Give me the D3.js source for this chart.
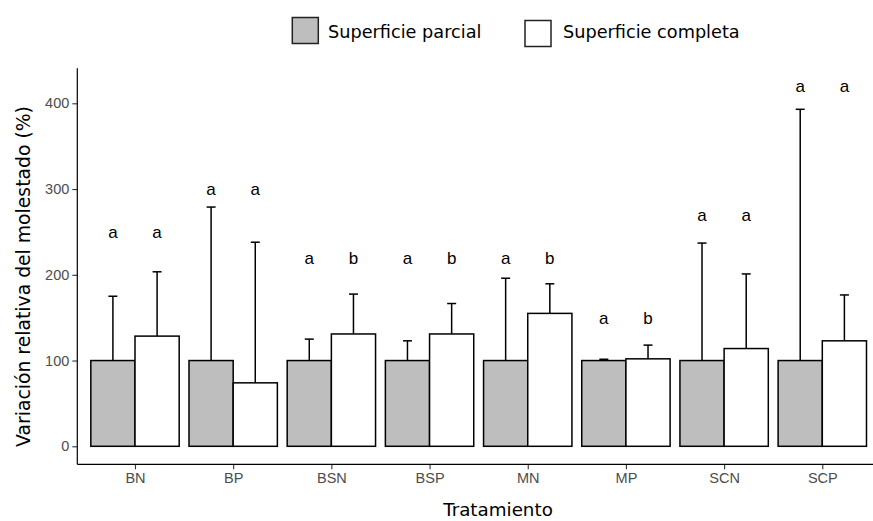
<!DOCTYPE html>
<html>
<head>
<meta charset="utf-8">
<script src="https://cdn.jsdelivr.net/npm/d3@7"></script>
<style>
  html, body { margin: 0; padding: 0; background: #fff; }
  svg { display: block; }
</style>
</head>
<body>
<svg id="chart" width="873" height="521"></svg>
<script>
// Treatments on the x axis
const categories = ["BN", "BP", "BSN", "BSP", "MN", "MP", "SCN", "SCP"];
// Series names
const seriesNames = ["Superficie parcial", "Superficie completa"];
// Mean relative variation (%) per treatment
const parcial = [100, 100, 100, 100, 100, 100, 100, 100];
const completa = [128.5, 74, 131, 131, 155, 102, 114, 123];
// Upper end of the error bar (%)
const parcialUpper = [175, 279, 125, 123, 196, 101.5, 237, 393];
const completaUpper = [203.5, 238, 177.5, 166.5, 189.5, 118, 201, 176.5];
// Significance letters and the height (%) at which they are written
const parcialLetters = ["a", "a", "a", "a", "a", "a", "a", "a"];
const completaLetters = ["a", "a", "b", "b", "b", "b", "a", "a"];
const letterHeight = [250, 300, 220, 220, 220, 150, 270, 420];
// Y axis ticks
const yTicks = [0, 100, 200, 300, 400];

const fills = ["#bebebe", "#ffffff"];
const svg = d3.select("#chart");

const y = d3.scaleLinear().domain([0, 400]).range([446.3, 103.3]);
const x = d3.scalePoint().domain(categories).range([135, 822.3]);
const step = x.step();
const barW = step * 0.9 / 2;

const panelLeft = 77.3, panelRight = 873;
const yTop = y(441), yBottom = y(-21);

// series table built from the arrays above
const table = categories.map((c, i) => ([
  { cat: c, s: 0, v: parcial[i], up: parcialUpper[i], letter: parcialLetters[i], lh: letterHeight[i] },
  { cat: c, s: 1, v: completa[i], up: completaUpper[i], letter: completaLetters[i], lh: letterHeight[i] }
])).flat();

const barX = d => x(d.cat) + (d.s === 0 ? -barW : 0);
const barMid = d => barX(d) + barW / 2;

// error bars (upper half only)
const eb = svg.append("g").attr("stroke", "#000").attr("stroke-width", 1.5);
eb.selectAll("line.stem").data(table).join("line")
  .attr("class", "stem")
  .attr("x1", barMid).attr("x2", barMid)
  .attr("y1", d => y(d.v)).attr("y2", d => y(d.up));
eb.selectAll("line.cap").data(table).join("line")
  .attr("class", "cap")
  .attr("x1", d => barMid(d) - 4.5).attr("x2", d => barMid(d) + 4.5)
  .attr("y1", d => y(d.up)).attr("y2", d => y(d.up));

// bars
svg.append("g").selectAll("rect").data(table).join("rect")
  .attr("x", barX)
  .attr("width", barW)
  .attr("y", d => y(d.v))
  .attr("height", d => y(0) - y(d.v))
  .attr("fill", d => fills[d.s])
  .attr("stroke", "#000")
  .attr("stroke-width", 1.5);

// significance letters
svg.append("g").selectAll("text").data(table).join("text")
  .attr("x", barMid)
  .attr("y", d => y(d.lh) + 6)
  .attr("text-anchor", "middle")
  .style("font-family", "'Liberation Sans', Arial, sans-serif")
  .style("font-size", "17px")
  .attr("fill", "#000")
  .text(d => d.letter);

const tickFont = "'Liberation Sans', Arial, sans-serif";

// y axis
const yAxis = svg.append("g")
  .attr("transform", `translate(${panelLeft},0)`)
  .call(d3.axisLeft(y).tickValues(yTicks).tickSize(5).tickPadding(3));
yAxis.select(".domain").remove();
yAxis.selectAll(".tick line").attr("stroke", "#333").attr("stroke-width", 1.1);
yAxis.selectAll(".tick text")
  .style("font-family", tickFont)
  .style("font-size", "14.5px").attr("fill", "#4d4d4d");
svg.append("line")
  .attr("x1", panelLeft).attr("x2", panelLeft)
  .attr("y1", yTop).attr("y2", yBottom)
  .attr("stroke", "#000").attr("stroke-width", 1.2);

// x axis
const xAxis = svg.append("g")
  .attr("transform", `translate(0,${yBottom})`)
  .call(d3.axisBottom(x).tickSize(5).tickPadding(3));
xAxis.select(".domain").remove();
xAxis.selectAll(".tick line").attr("stroke", "#333").attr("stroke-width", 1.1);
xAxis.selectAll(".tick text")
  .style("font-family", tickFont)
  .style("font-size", "14.5px").attr("fill", "#4d4d4d");
svg.append("line")
  .attr("x1", panelLeft).attr("x2", panelRight)
  .attr("y1", yBottom).attr("y2", yBottom)
  .attr("stroke", "#000").attr("stroke-width", 1.2);

// axis titles
const titleFont = "'DejaVu Sans', Verdana, sans-serif";
svg.append("text")
  .attr("x", 498).attr("y", 516)
  .attr("text-anchor", "middle")
  .style("font-family", titleFont).style("font-size", "18.3px").attr("fill", "#000")
  .text("Tratamiento");
svg.append("text")
  .attr("transform", "translate(29.5,276.5) rotate(-90)")
  .attr("text-anchor", "middle")
  .style("font-family", titleFont).style("font-size", "18.8px").attr("fill", "#000")
  .text("Variación relativa del molestado (%)");

// legend
const legendItems = [
  { name: seriesNames[0], fill: fills[0], bx: 292.3, by: 17.5, tx: 328 },
  { name: seriesNames[1], fill: fills[1], bx: 525, by: 20.5, tx: 563 }
];
const lg = svg.append("g");
lg.selectAll("rect").data(legendItems).join("rect")
  .attr("x", d => d.bx).attr("y", d => d.by)
  .attr("width", 26).attr("height", 26)
  .attr("fill", d => d.fill)
  .attr("stroke", "#222").attr("stroke-width", 1.5);
lg.selectAll("text").data(legendItems).join("text")
  .attr("x", d => d.tx).attr("y", 38)
  .style("font-family", titleFont).style("font-size", "17.7px").attr("fill", "#000")
  .text(d => d.name);
</script>
</body>
</html>
